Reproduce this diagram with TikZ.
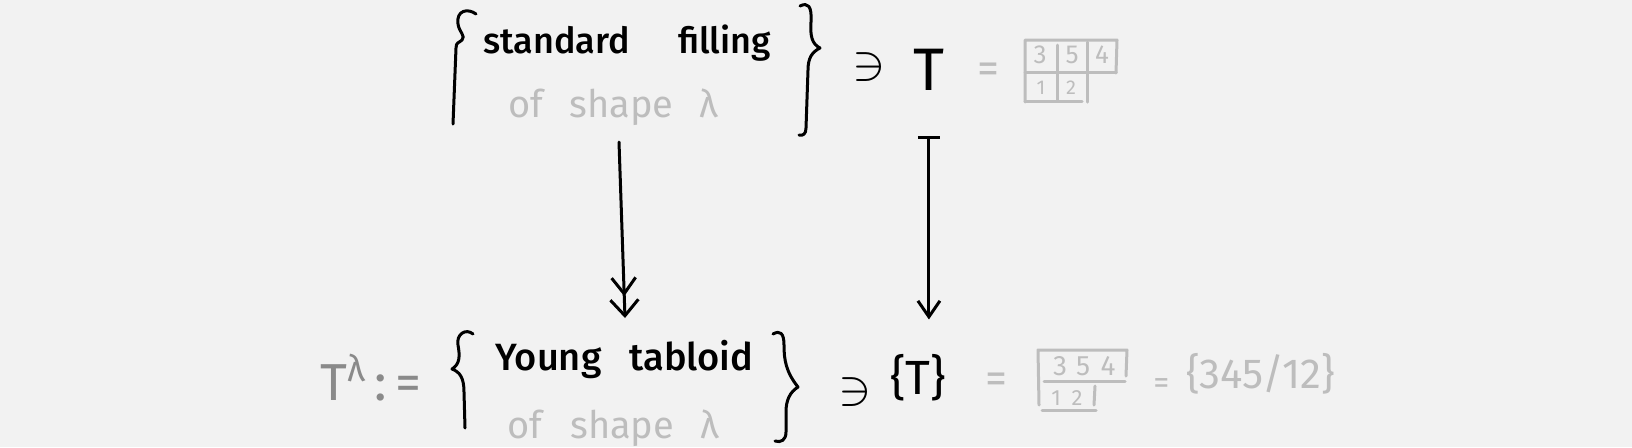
\documentclass[tikz,border=0pt]{standalone}
\usepackage{fontspec}
\setmainfont{Fira Sans}[BoldFont={* Medium}]
\usetikzlibrary{arrows.meta}

\definecolor{paper}{HTML}{F2F2F2}
\definecolor{pale}{HTML}{BDBDBD}
\definecolor{mid}{HTML}{8A8A8A}

\begin{document}
\begin{tikzpicture}[x=0.5pt,y=-0.5pt,>={Straight Barb[length=8pt,width=11pt]},
  pen/.style={line width=1.5pt,line cap=round,line join=round},
  soft/.style={pen,color=pale},
  word/.style={inner sep=0pt,anchor=base west},
  cell/.style={inner sep=0pt,text=pale,font=\fontsize{13}{15}\selectfont}]

\fill[paper] (0,0) rectangle (1632,447);

% upper set
\node[word,font=\fontsize{18}{20}\selectfont\bfseries] (std) at (483,53) {standard\hspace{24pt}filling};
\node[word,text=pale,font=\fontsize{19}{22}\selectfont] (stdshape) at (508,117) {of\hspace{13pt}shape\hspace{13pt}λ};

\draw[pen] (476,14) .. controls (468,8) and (456,10) .. (458,24)
	.. controls (459,32) and (466,36) .. (462,40)
	.. controls (459,43) and (456,42) .. (456,48) -- (453,124);
\draw[pen] (800,6) .. controls (808,2) and (812,6) .. (811,22)
	.. controls (810,36) and (812,44) .. (820,48)
	.. controls (812,52) and (808,58) .. (808,70) -- (806,128)
	.. controls (806,134) and (803,136) .. (799,135);

\node[word,font=\fontsize{30}{32}\selectfont] (ni1) at (852,79) {$\ni$};
\node[word,font=\fontsize{30}{32}\selectfont] (T1) at (913,90) {T};
\node[word,text=pale,font=\fontsize{22}{24}\selectfont] (eq1) at (977,83) {=};

% filling of shape lambda
\draw[soft] (1025,102) -- (1025,40) -- (1117,40) -- (1116,73);
\draw[soft] (1025,72) -- (1116,72);
\draw[soft] (1057,45) -- (1057,100);
\draw[soft] (1087,42) -- (1087,102);
\draw[soft] (1025,101) -- (1082,101);
\node[cell] (c11) at (1040,55) {3};
\node[cell] (c12) at (1072,55) {5};
\node[cell] (c13) at (1102,55) {4};
\node[cell,font=\fontsize{10}{12}\selectfont] (c21) at (1041,88) {1};
\node[cell,font=\fontsize{10}{12}\selectfont] (c22) at (1071,88) {2};

% lower set
\node[word,text=mid,font=\fontsize{26}{28}\selectfont] (Tlam) at (320,400) {T\textsuperscript{λ}\,:\,=};
\node[word,font=\fontsize{19}{22}\selectfont\bfseries] (young) at (495,370) {Young\hspace{14pt}tabloid};
\node[word,text=pale,font=\fontsize{19}{22}\selectfont] (youngshape) at (507,438) {of\hspace{14pt}shape\hspace{13pt}λ};

\draw[pen] (473,334) .. controls (466,328) and (456,334) .. (458,345)
	.. controls (460,356) and (460,364) .. (452,369)
	.. controls (460,372) and (464,378) .. (464,392) -- (465,428);
\draw[pen] (773,334) .. controls (780,330) and (784,333) .. (784,345)
	.. controls (784,360) and (786,372) .. (798,387)
	.. controls (790,392) and (786,400) .. (786,412) -- (786,432)
	.. controls (786,440) and (781,443) .. (775,441);

\node[word,font=\fontsize{30}{32}\selectfont] (ni2) at (838,404) {$\ni$};
\node[word,font=\fontsize{24}{26}\selectfont] (Tb) at (890,394) {\{T\}};
\node[word,text=pale,font=\fontsize{22}{24}\selectfont] (eq2) at (985,393) {=};

% tabloid
\draw[soft] (1039,405) -- (1038,350) -- (1127,350) -- (1126,376);
\draw[soft] (1044,381) -- (1125,381);
\draw[soft] (1095,386) -- (1094,405);
\draw[soft] (1042,410) -- (1096,410);
\node[cell,font=\fontsize{14}{16}\selectfont] (d11) at (1060,366) {3};
\node[cell,font=\fontsize{14}{16}\selectfont] (d12) at (1083,366) {5};
\node[cell,font=\fontsize{14}{16}\selectfont] (d13) at (1108,366) {4};
\node[cell,font=\fontsize{11}{13}\selectfont] (d21) at (1056,398) {1};
\node[cell,font=\fontsize{11}{13}\selectfont] (d22) at (1077,398) {2};

\node[word,text=pale,font=\fontsize{16}{18}\selectfont] (eq3) at (1153,393) {=};
\node[word,text=pale,font=\fontsize{21}{23}\selectfont] (rows) at (1186,388) {\{345/12\}};

% arrows
\coordinate (ltop) at (619,142);
\coordinate (lbot) at (625,318);
\draw[pen,-{Straight Barb[length=8pt,width=12pt,sep=1pt]Straight Barb[length=8pt,width=14pt]}] (ltop) -- (lbot);
\draw[pen,{Bar[width=11pt]}->,shorten <=23pt,shorten >=17pt] (T1.south) -- (T1.south |- Tb.north);

\end{tikzpicture}
\end{document}
